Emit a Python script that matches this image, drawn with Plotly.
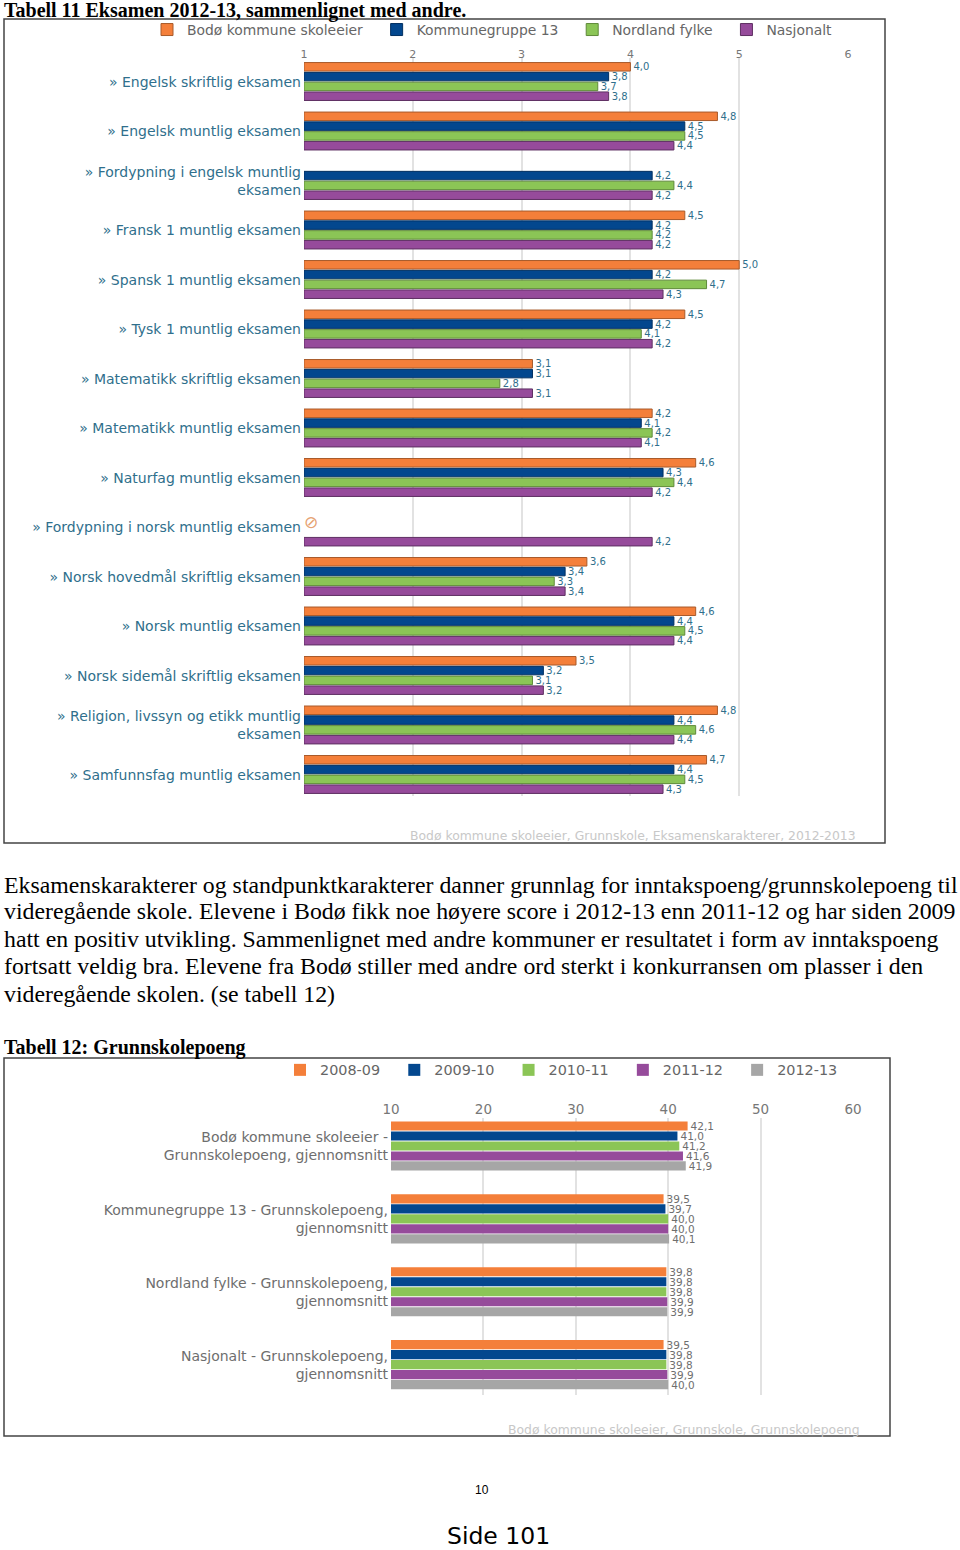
import plotly.graph_objects as go

W, H = 960, 1550

# ---- Tabell 11 data
exam_categories = [
    "» Engelsk skriftlig eksamen", "» Engelsk muntlig eksamen",
    "» Fordypning i engelsk muntlig<br>eksamen", "» Fransk 1 muntlig eksamen",
    "» Spansk 1 muntlig eksamen", "» Tysk 1 muntlig eksamen",
    "» Matematikk skriftlig eksamen", "» Matematikk muntlig eksamen",
    "» Naturfag muntlig eksamen", "» Fordypning i norsk muntlig eksamen",
    "» Norsk hovedmål skriftlig eksamen", "» Norsk muntlig eksamen",
    "» Norsk sidemål skriftlig eksamen", "» Religion, livssyn og etikk muntlig<br>eksamen",
    "» Samfunnsfag muntlig eksamen",
]
bodo = [4.0, 4.8, None, 4.5, 5.0, 4.5, 3.1, 4.2, 4.6, None, 3.6, 4.6, 3.5, 4.8, 4.7]
kommunegruppe = [3.8, 4.5, 4.2, 4.2, 4.2, 4.2, 3.1, 4.1, 4.3, None, 3.4, 4.4, 3.2, 4.4, 4.4]
nordland = [3.7, 4.5, 4.4, 4.2, 4.7, 4.1, 2.8, 4.2, 4.4, None, 3.3, 4.5, 3.1, 4.6, 4.5]
nasjonalt = [3.8, 4.4, 4.2, 4.2, 4.3, 4.2, 3.1, 4.1, 4.2, 4.2, 3.4, 4.4, 3.2, 4.4, 4.3]
exam_series = [("Bodø kommune skoleeier", bodo), ("Kommunegruppe 13", kommunegruppe),
               ("Nordland fylke", nordland), ("Nasjonalt", nasjonalt)]
exam_ticks = [1, 2, 3, 4, 5, 6]

# ---- Tabell 12 data
points_categories = [
    "Bodø kommune skoleeier -<br>Grunnskolepoeng, gjennomsnitt",
    "Kommunegruppe 13 - Grunnskolepoeng,<br>gjennomsnitt",
    "Nordland fylke - Grunnskolepoeng,<br>gjennomsnitt",
    "Nasjonalt - Grunnskolepoeng,<br>gjennomsnitt",
]
y2008 = [42.1, 39.5, 39.8, 39.5]
y2009 = [41.0, 39.7, 39.8, 39.8]
y2010 = [41.2, 40.0, 39.8, 39.8]
y2011 = [41.6, 40.0, 39.9, 39.9]
y2012 = [41.9, 40.1, 39.9, 40.0]
points_series = [("2008-09", y2008), ("2009-10", y2009), ("2010-11", y2010),
                 ("2011-12", y2011), ("2012-13", y2012)]
points_ticks = [10, 20, 30, 40, 50, 60]

paragraph = [
    "Eksamenskarakterer og standpunktkarakterer danner grunnlag for inntakspoeng/grunnskolepoeng til",
    "videregående skole. Elevene i Bodø fikk noe høyere score i 2012-13 enn 2011-12 og har siden 2009",
    "hatt en positiv utvikling. Sammenlignet med andre kommuner er resultatet i form av inntakspoeng",
    "fortsatt veldig bra. Elevene fra Bodø stiller med andre ord sterkt i konkurransen om plasser i den",
    "videregående skolen. (se tabell 12)",
]

COLORS = ["#f47f3a", "#03478e", "#8bc556", "#964b9b", "#a6a6a6"]
EDGES = ["#a85a2a", "#022f60", "#5f8a3a", "#5e2f62", "#a6a6a6"]
TEAL = "#2f6f8c"
GREY = "#6e6e6e"
SANS = "DejaVu Sans"
SERIF = "Liberation Serif"
PAD = "\u00a0\u00a0"


def fx(px):
    return px / W


def fy(py):
    return 1 - py / H


def label(v):
    return None if v is None else f"{v:.1f}".replace(".", ",")


fig = go.Figure()

for i, (name, vals) in enumerate(exam_series):
    fig.add_trace(go.Bar(
        y=exam_categories, x=[None if v is None else v - 1 for v in vals], name=name + PAD,
        orientation="h", xaxis="x", yaxis="y", base=1, legend="legend",
        width=0.172, offset=-0.388 + i * 0.198,
        marker=dict(color=COLORS[i], line=dict(color=EDGES[i], width=1)),
        text=[label(v) for v in vals],
        textposition="outside", textangle=0, constraintext="none", cliponaxis=False,
        textfont=dict(family=SANS, size=10, color=TEAL), hoverinfo="x+y",
    ))

for i, (name, vals) in enumerate(points_series):
    fig.add_trace(go.Bar(
        y=points_categories, x=[v - 10 for v in vals], name=name + PAD, orientation="h",
        xaxis="x2", yaxis="y2", base=10, legend="legend2",
        width=0.125, offset=-0.343 + i * 0.137,
        marker=dict(color=COLORS[i], line=dict(width=0)),
        text=[label(v) for v in vals],
        textposition="outside", textangle=0, constraintext="none", cliponaxis=False,
        textfont=dict(family=SANS, size=10.5, color=GREY), hoverinfo="x+y",
    ))

axis_common = dict(side="top", showgrid=True, gridcolor="#e2e2e2", gridwidth=2, zeroline=False,
                   showline=False, ticks="", tickmode="array", automargin=False)

annotations = []


def note(text, x, y, size, family=SANS, color="#000", anchor="left", bold=False):
    annotations.append(dict(
        text=f"<b>{text}</b>" if bold else text, x=fx(x), y=fy(y), xref="paper", yref="paper",
        xanchor=anchor, yanchor="middle", showarrow=False, borderpad=0, borderwidth=0,
        font=dict(family=family, size=size, color=color)))


note("Tabell 11 Eksamen 2012-13, sammenlignet med andre.", 4, 10.5, 20, SERIF, bold=True)
note("Tabell 12: Grunnskolepoeng", 4, 1047, 20, SERIF, bold=True)
for line, y in zip(paragraph, [884.5, 911.5, 938.5, 965.5, 993.5]):
    note(line, 4, y, 23.8, SERIF)
note("10", 481.5, 1490, 12, "Liberation Sans", anchor="center")
note("Side 101", 498, 1536, 23.5, SANS, anchor="center")
note("Bodø kommune skoleeier, Grunnskole, Eksamenskarakterer, 2012-2013", 856, 836, 12.4, SANS,
     "#c8c8c8", "right")
note("Bodø kommune skoleeier, Grunnskole, Grunnskolepoeng", 860, 1429, 12.4, SANS, "#c8c8c8", "right")
note("⊘", 311, 522, 17, SANS, "#e6a272", "center")

frames = [dict(type="rect", xref="paper", yref="paper", x0=fx(4), x1=fx(885), y0=fy(843), y1=fy(19),
               line=dict(color="#444444", width=1.5), fillcolor="rgba(0,0,0,0)", layer="below"),
          dict(type="rect", xref="paper", yref="paper", x0=fx(4), x1=fx(890), y0=fy(1436), y1=fy(1058),
               line=dict(color="#444444", width=1.5), fillcolor="rgba(0,0,0,0)", layer="below")]

fig.update_layout(
    template="none",
    width=W, height=H, margin=dict(l=0, r=0, t=0, b=0, pad=0), autosize=False,
    paper_bgcolor="white", plot_bgcolor="rgba(0,0,0,0)", barmode="overlay", showlegend=True,
    xaxis=dict(domain=[fx(304), fx(848)], range=[1, 6], anchor="y", tickvals=exam_ticks,
               ticklabelstandoff=-3,
               tickfont=dict(family=SANS, size=11, color="#777"), **axis_common),
    yaxis=dict(domain=[fy(796), fy(58)], range=[14.43, -0.48], type="category", anchor="x",
               categoryorder="array", categoryarray=exam_categories, showgrid=False, ticks="",
               showline=False, zeroline=False, automargin=False, ticklabelstandoff=2,
               tickfont=dict(family=SANS, size=14, color=TEAL)),
    xaxis2=dict(domain=[fx(391), fx(853)], range=[10, 60], anchor="y2", tickvals=points_ticks,
                tickfont=dict(family=SANS, size=13.5, color="#777"), **axis_common),
    yaxis2=dict(domain=[fy(1395), fy(1118)], range=[3.41, -0.39], type="category", anchor="x2",
                categoryorder="array", categoryarray=points_categories, showgrid=False, ticks="",
                showline=False, zeroline=False, automargin=False, ticklabelstandoff=2,
                tickfont=dict(family=SANS, size=14, color=GREY)),
    legend=dict(orientation="h", x=fx(147), y=fy(30), xanchor="left", yanchor="middle",
                font=dict(family=SANS, size=13.9, color="#666"), itemclick=False, itemdoubleclick=False,
                traceorder="normal", bgcolor="rgba(0,0,0,0)", itemwidth=30),
    legend2=dict(orientation="h", x=fx(280), y=fy(1070), xanchor="left", yanchor="middle",
                 font=dict(family=SANS, size=14.4, color="#666"), itemclick=False, itemdoubleclick=False,
                 traceorder="normal", bgcolor="rgba(0,0,0,0)", itemwidth=30),
    annotations=annotations, shapes=frames,
)

fig.write_html("out.html", config={"responsive": False, "displayModeBar": False},
               post_script="document.documentElement.style.margin='0';document.body.style.margin='0';document.body.style.padding='0';")
